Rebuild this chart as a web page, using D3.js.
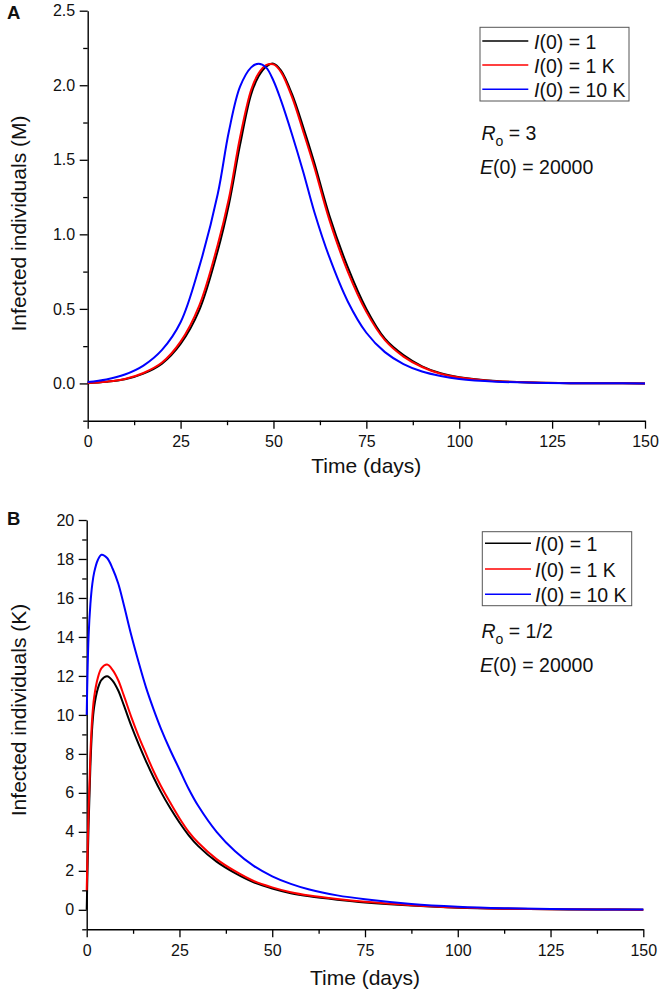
<!DOCTYPE html>
<html><head><meta charset="utf-8">
<script src="https://cdn.jsdelivr.net/npm/d3@7"></script>
<style>
body{margin:0;background:#fff}
svg{display:block;background:#fff}
text{font-family:"Liberation Sans",Arial,Helvetica,sans-serif;fill:#111}
</style>
</head><body>
<svg id="chart" width="661" height="995"></svg>
<script>
// ---------- data ----------
const daysA  = [0,5,10,15,20,25,30,35,38,41,44,46,48,50,52,55,58,61,65,70,75,80,85,90,95,100,110,120,130,140,150];
const blackA = [0.002,0.011,0.028,0.066,0.133,0.265,0.49,0.89,1.20,1.60,1.94,2.06,2.125,2.145,2.10,1.94,1.72,1.48,1.13,0.78,0.50,0.30,0.19,0.115,0.068,0.042,0.016,0.006,0.002,0.001,0.0];
const redA   = [0.003,0.012,0.03,0.07,0.14,0.28,0.52,0.93,1.24,1.65,1.97,2.08,2.135,2.14,2.09,1.92,1.69,1.45,1.10,0.75,0.48,0.29,0.18,0.11,0.065,0.04,0.015,0.006,0.002,0.001,0.0];
const blueA  = [0.01,0.027,0.06,0.12,0.225,0.41,0.78,1.27,1.69,1.99,2.12,2.145,2.12,2.03,1.90,1.67,1.42,1.15,0.85,0.55,0.34,0.21,0.13,0.08,0.05,0.03,0.012,0.005,0.002,0.001,0.0];

const daysB  = [0,0.5,1,1.5,2,3,4,5.5,7,8.5,10,12,14,16,18,20,22.5,25,27.5,30,35,40,45,50,55,60,67.5,75,87.5,100,112.5,125,137.5,150];
const blackB = [0.0,4.3,7.4,9.4,10.4,11.35,11.8,11.98,11.75,11.25,10.5,9.45,8.5,7.62,6.8,6.05,5.22,4.48,3.82,3.28,2.47,1.88,1.41,1.09,0.85,0.69,0.52,0.38,0.22,0.11,0.055,0.028,0.014,0.005];
const redB   = [1.0,5.0,8.0,9.9,10.9,11.9,12.4,12.58,12.3,11.78,11.0,9.9,8.9,8.0,7.12,6.35,5.5,4.7,4.0,3.45,2.6,1.98,1.48,1.15,0.9,0.73,0.55,0.41,0.24,0.12,0.06,0.03,0.015,0.005];
const blueB  = [10.0,14.0,15.7,16.7,17.3,17.95,18.22,18.05,17.5,16.74,15.65,14.1,12.7,11.4,10.3,9.3,8.2,7.2,6.2,5.35,4.0,3.0,2.25,1.72,1.33,1.04,0.74,0.54,0.3,0.16,0.08,0.04,0.02,0.01];

const xTicks  = [0,25,50,75,100,125,150];
const xMinor  = [12.5,37.5,62.5,87.5,112.5,137.5];
const yTicksA = [0,0.5,1.0,1.5,2.0,2.5];
const yMinorA = [-0.25,0.25,0.75,1.25,1.75,2.25];
const yTicksB = [0,2,4,6,8,10,12,14,16,18,20];
const yMinorB = [-1,1,3,5,7,9,11,13,15,17,19];
const legendValues = ["1","1 K","10 K"];
const seriesColors = ["#000000","#ff0000","#0000ff"];

// ---------- drawing ----------
const svg = d3.select("#chart");

function drawPanel(p){
  const x = d3.scaleLinear().domain([0,150]).range([p.x0,p.x1]);
  const y = d3.scaleLinear().domain(p.ydom).range([p.yb,p.yt]);
  const g = svg.append("g");

  // minor ticks
  g.append("g").attr("class","minor").attr("transform",`translate(0,${p.yb})`)
    .call(d3.axisBottom(x).tickValues(xMinor).tickSize(4.5).tickSizeOuter(0).tickFormat(""));
  g.append("g").attr("class","minor").attr("transform",`translate(${p.x0},0)`)
    .call(d3.axisLeft(y).tickValues(p.yMinor).tickSize(4.5).tickSizeOuter(0).tickFormat(""));
  g.selectAll(".minor .domain").remove();

  // major axes
  g.append("g").attr("transform",`translate(0,${p.yb})`)
    .call(d3.axisBottom(x).tickValues(xTicks).tickSize(8).tickSizeOuter(0).tickPadding(7).tickFormat(d3.format("d")));
  g.append("g").attr("transform",`translate(${p.x0},0)`)
    .call(d3.axisLeft(y).tickValues(p.yTicks).tickSize(8).tickSizeOuter(0).tickPadding(4.5).tickFormat(p.fmt));
  g.selectAll(".domain").attr("stroke","#000").attr("stroke-width",1.4);
  g.selectAll(".tick line").attr("stroke","#000").attr("stroke-width",1.3);
  g.selectAll(".tick text").attr("font-size",16).attr("fill","#111")
    .style("font-family",'"Liberation Sans",Arial,sans-serif');

  // curves
  const line = d3.line().x(d=>x(d[0])).y(d=>y(d[1])).curve(d3.curveCatmullRom.alpha(0.5));
  p.series.forEach((s,i)=>{
    g.append("path").datum(p.days.map((d,j)=>[d,s[j]]))
      .attr("d",line).attr("fill","none").attr("stroke",seriesColors[i])
      .attr("stroke-width",2).attr("stroke-linejoin","round");
  });

  // titles
  g.append("text").attr("x",(p.x0+p.x1)/2).attr("y",p.xTitleY).attr("text-anchor","middle")
    .attr("font-size",21).text("Time (days)");
  g.append("text").attr("transform",`translate(26,${p.yTitleC}) rotate(-90)`).attr("text-anchor","middle")
    .attr("font-size",21).text(p.yTitle);
  g.append("text").attr("x",7).attr("y",p.letterY).attr("font-size",18.5).attr("font-weight","bold").text(p.letter);

  // legend
  const L = p.legend;
  g.append("rect").attr("x",L.x).attr("y",L.y).attr("width",L.w).attr("height",L.h)
    .attr("fill","#fff").attr("stroke","#555").attr("stroke-width",1);
  legendValues.forEach((v,i)=>{
    const ly = L.rows[i];
    g.append("line").attr("x1",L.lx0).attr("x2",L.lx1).attr("y1",ly).attr("y2",ly)
      .attr("stroke",seriesColors[i]).attr("stroke-width",1.6);
    const t = g.append("text").attr("x",L.tx).attr("y",ly+7.5).attr("font-size",19.5);
    t.append("tspan").attr("font-style","italic").text("I");
    t.append("tspan").text("(0) = "+v);
  });

  // annotations
  const r = g.append("text").attr("x",481.5).attr("y",p.rY).attr("font-size",19.5);
  r.append("tspan").attr("font-style","italic").text("R");
  r.append("tspan").attr("font-size",14).attr("dy",6).text("o");
  r.append("tspan").attr("dy",-6).text(" = "+p.r0);
  const e = g.append("text").attr("x",480).attr("y",p.eY).attr("font-size",19.5);
  e.append("tspan").attr("font-style","italic").text("E");
  e.append("tspan").text("(0) = 20000");
}

drawPanel({
  x0:87.7, x1:645, yt:10.7, yb:420.7, ydom:[-0.25,2.5],
  yTicks:yTicksA, yMinor:yMinorA, fmt:d3.format(".1f"),
  days:daysA, series:[blackA,redA,blueA],
  xTitleY:472.5, yTitleC:223.5, yTitle:"Infected individuals (M)",
  letter:"A", letterY:18.5,
  legend:{x:480,y:27.3,w:149,h:73.7,lx0:482.3,lx1:528.3,tx:534,rows:[41,65,89.3]},
  r0:"3", rY:140, eY:174
});
drawPanel({
  x0:86.7, x1:643.3, yt:520, yb:929.3, ydom:[-1,20],
  yTicks:yTicksB, yMinor:yMinorB, fmt:d3.format("d"),
  days:daysB, series:[blackB,redB,blueB],
  xTitleY:985, yTitleC:710, yTitle:"Infected individuals (K)",
  letter:"B", letterY:525,
  legend:{x:482.3,y:531.7,w:149.4,h:74,lx0:485,lx1:531,tx:535,rows:[543.3,569,594.3]},
  r0:"1/2", rY:638.3, eY:671.7
});
</script>
</body></html>
